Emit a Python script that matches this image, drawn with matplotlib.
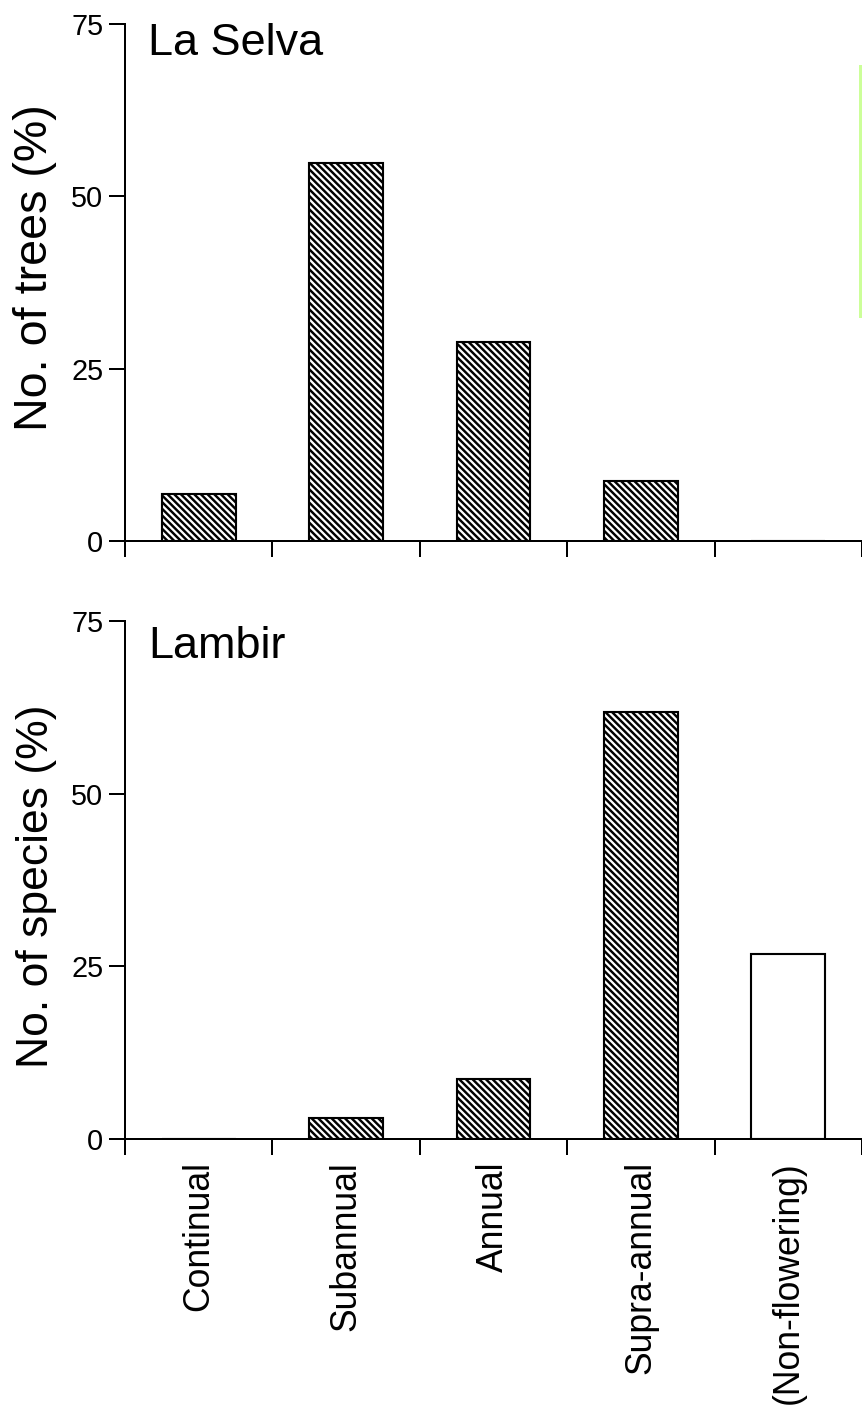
import numpy as np
import matplotlib
matplotlib.use('Agg')
import matplotlib.pyplot as plt
from matplotlib.lines import Line2D

# flowering frequency categories, values in percent
categories = ['Continual', 'Subannual', 'Annual', 'Supra-annual', '(Non-flowering)']
la_selva = [6.8, 54.8, 28.9, 8.7, 0.0]
lambir = [0.0, 3.0, 8.7, 61.8, 26.7]
y_ticks = [0, 25, 50, 75]

DPI = 80
plt.rcParams['font.family'] = ['Liberation Sans', 'DejaVu Sans']
plt.rcParams['hatch.linewidth'] = 2.2
plt.rcParams['hatch.color'] = 'black'


def draw_panel(ax, values, title, title_y, ylabel, ylabel_size, ylabel_y, show_names):
    x = np.arange(len(categories))
    for xi, v, name in zip(x, values, categories):
        # the non-flowering bar is left open
        hatch = None if name.startswith('(') else '\\\\\\\\'
        ax.bar(xi, v, width=0.5, facecolor='white', edgecolor='black',
               linewidth=1.9, hatch=hatch, zorder=2)

    ax.set_xlim(-0.5, len(categories) - 0.5)
    ax.set_ylim(0, 75)
    ax.set_yticks(y_ticks)
    ax.set_yticklabels([str(t) for t in y_ticks])
    ax.tick_params(axis='y', direction='out', length=14.4, width=1.8,
                   pad=5, labelsize=26)

    # tick marks between categories, names under the bars
    ax.set_xticks(np.arange(-0.5, len(categories)))
    ax.set_xticklabels([])
    ax.tick_params(axis='x', which='major', direction='out', length=14.4, width=1.8)
    ax.set_xticks(x, minor=True)
    if show_names:
        ax.set_xticklabels(categories, minor=True, rotation=90, fontsize=32)
    ax.tick_params(axis='x', which='minor', length=0, pad=20)

    for side in ['top', 'right']:
        ax.spines[side].set_visible(False)
    for side in ['left', 'bottom']:
        ax.spines[side].set_linewidth(1.8)

    ax.text(0.031, title_y, title, transform=ax.transAxes, fontsize=40.5,
            va='baseline', ha='left')
    ax.set_ylabel(ylabel, fontsize=ylabel_size)
    ax.yaxis.set_label_coords(-0.092, ylabel_y)


fig = plt.figure(figsize=(862 / DPI, 1406 / DPI), dpi=DPI)
ax_top = fig.add_axes([0.145, 0.6152, 0.855, 0.3677])
ax_bot = fig.add_axes([0.145, 0.19, 0.855, 0.3684])

draw_panel(ax_top, la_selva, 'La Selva', 0.94, 'No. of trees (%)', 42, 0.528, False)
draw_panel(ax_bot, lambir, 'Lambir', 0.929, 'No. of species (%)', 40, 0.488, True)

# thin green mark at the right edge of the scan
fig.add_artist(Line2D([0.9977, 0.9977], [0.775, 0.953], transform=fig.transFigure,
                      color='#ccff99', linewidth=2.7))

fig.savefig('out.png', dpi=DPI, facecolor='white')
